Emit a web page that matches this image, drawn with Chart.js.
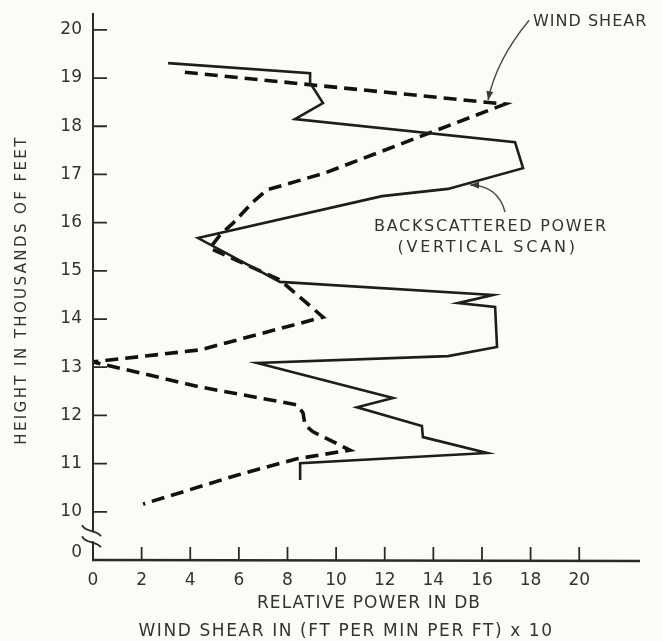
<!DOCTYPE html>
<html><head><meta charset="utf-8">
<script src="https://cdn.jsdelivr.net/npm/chart.js@4.4.1/dist/chart.umd.min.js"></script>
<style>html,body{margin:0;padding:0;background:#fbfcf7;}canvas{display:block;}</style>
</head><body>
<canvas id="c" width="662" height="641"></canvas>
<script>
// Backscattered power (vertical scan): relative power in dB vs height (thousands of feet)
const powerDb = [3.09, 8.93, 8.93, 9.46, 8.31, 17.36, 17.69, 14.60, 11.89, 4.32, 7.69, 16.45, 15.01, 16.54, 16.62, 14.60, 6.75, 12.34, 10.86, 13.53, 13.57, 16.21, 8.52, 8.52];
const powerHeight = [19.31, 19.10, 18.90, 18.48, 18.15, 17.67, 17.13, 16.70, 16.55, 15.68, 14.77, 14.50, 14.33, 14.25, 13.42, 13.23, 13.09, 12.36, 12.17, 11.78, 11.55, 11.22, 11.01, 10.66];
// Wind shear (ft per min per ft) x 10 vs height
const shearValue = [3.78, 16.95, 9.54, 7.16, 6.54, 5.76, 5.22, 4.81, 7.69, 9.46, 4.40, 0.00, 4.40, 8.39, 8.64, 8.72, 9.05, 10.57, 8.39, 5.92, 2.06];
const shearHeight = [19.12, 18.46, 17.03, 16.68, 16.41, 15.99, 15.74, 15.47, 14.81, 14.04, 13.36, 13.11, 12.59, 12.22, 12.05, 11.80, 11.66, 11.28, 11.10, 10.76, 10.16];
const xTickValues = [0, 2, 4, 6, 8, 10, 12, 14, 16, 18, 20];
const yTickValues = [10, 11, 12, 13, 14, 15, 16, 17, 18, 19, 20];
const yZeroLabel = '0';
const yTitle = 'HEIGHT IN THOUSANDS OF FEET';
const xTitle1 = 'RELATIVE POWER IN DB';
const xTitle2 = 'WIND SHEAR IN (FT PER MIN PER FT) x 10';

// broken axis: the "0" is drawn just above the bottom of the axis
const Y_MIN = 9, Y_MAX = 20.35, Y_ZERO_POS = 9.15;
const X_MIN = 0, X_MAX = 22.5;

const INK = '#1d1d1d';
const TXT = '#333333';
const FONT = 'DejaVu Sans';

const toPts = (xs, ys) => xs.map((x, i) => ({x, y: ys[i]}));

const decor = {
  id: 'decor',
  beforeDraw(chart) {
    const c = chart.ctx;
    c.save();
    c.fillStyle = '#fbfcf7';
    c.fillRect(0, 0, chart.width, chart.height);
    c.restore();
  },
  afterDraw(chart) {
    const c = chart.ctx;
    const xs = chart.scales.x, ys = chart.scales.y;
    const X = v => xs.getPixelForValue(v), Y = v => ys.getPixelForValue(v);
    const x0 = X(0), yb = Y(Y_MIN), yt = Y(Y_MAX);
    c.save();
    c.strokeStyle = '#2a2a2a';
    c.lineCap = 'butt';
    // y axis with break
    const brkTop = Y(9.66), brkBot = Y(9.45);
    c.lineWidth = 2;
    c.beginPath();
    c.moveTo(x0, yt); c.lineTo(x0, brkTop + 3);
    c.moveTo(x0, brkBot + 3); c.lineTo(x0, yb);
    c.stroke();
    // break marks
    c.lineWidth = 1.8;
    [brkTop - 3, brkBot - 2].forEach(y0 => {
      c.beginPath();
      c.moveTo(x0 - 11, y0);
      c.bezierCurveTo(x0 - 7, y0 + 8, x0 + 3, y0 + 4, x0 + 8, y0 + 11);
      c.stroke();
    });
    // x axis
    c.lineWidth = 2.4;
    c.beginPath();
    c.moveTo(x0 - 1, yb); c.lineTo(X(X_MAX), yb + 1);
    c.stroke();
    // tick marks (inward)
    c.lineWidth = 1.8;
    c.beginPath();
    yTickValues.forEach(v => { c.moveTo(x0, Y(v)); c.lineTo(x0 + 14, Y(v)); });
    xTickValues.forEach(v => { if (v > 0) { c.moveTo(X(v), yb); c.lineTo(X(v), yb - 13); } });
    c.stroke();

    // axis titles
    c.fillStyle = TXT;
    c.textBaseline = 'middle';
    c.textAlign = 'center';
    c.font = `17px "${FONT}"`;
    c.letterSpacing = '1.1px';
    c.fillText(xTitle1, 369, 604);
    c.letterSpacing = '1.6px';
    c.fillText(xTitle2, 346, 632);
    c.save();
    c.translate(22, 290);
    c.rotate(-Math.PI / 2);
    c.font = `15px "${FONT}"`;
    c.letterSpacing = '2.4px';
    c.fillText(yTitle, 0, 0);
    c.restore();

    // annotations
    c.font = `16px "${FONT}"`;
    c.letterSpacing = '1px';
    c.textAlign = 'left';
    c.fillText('WIND SHEAR', X(18.1), Y(20.17));
    c.textAlign = 'center';
    c.letterSpacing = '1.7px';
    c.fillText('BACKSCATTERED POWER', X(16.37), Y(15.91));
    c.letterSpacing = '2.8px';
    c.fillText('(VERTICAL SCAN)', X(16.23), Y(15.47));
    c.letterSpacing = '0px';

    const arrow = (p0, cp, p2) => {
      const [ax, ay] = [X(p0[0]), Y(p0[1])];
      const [cx, cy] = [X(cp[0]), Y(cp[1])];
      const [bx, by] = [X(p2[0]), Y(p2[1])];
      c.strokeStyle = '#4a4a4a';
      c.lineWidth = 1.4;
      c.beginPath(); c.moveTo(ax, ay); c.quadraticCurveTo(cx, cy, bx, by); c.stroke();
      const ang = Math.atan2(by - cy, bx - cx);
      const L = 9, W = 3.5;
      c.fillStyle = '#3a3a3a';
      c.beginPath();
      c.moveTo(bx, by);
      c.lineTo(bx - L * Math.cos(ang) + W * Math.sin(ang), by - L * Math.sin(ang) - W * Math.cos(ang));
      c.lineTo(bx - L * Math.cos(ang) - W * Math.sin(ang), by - L * Math.sin(ang) + W * Math.cos(ang));
      c.closePath(); c.fill();
    };
    arrow([17.94, 20.2], [16.58, 19.37], [16.25, 18.54]);
    arrow([16.95, 16.22], [16.66, 16.77], [15.51, 16.78]);
    c.restore();
  }
};

new Chart(document.getElementById('c'), {
  type: 'scatter',
  data: {
    datasets: [
      {
        label: 'BACKSCATTERED POWER (VERTICAL SCAN)',
        data: toPts(powerDb, powerHeight),
        showLine: true, tension: 0, pointRadius: 0,
        borderColor: INK, borderWidth: 2.6, borderJoinStyle: 'miter', fill: false
      },
      {
        label: 'WIND SHEAR',
        data: toPts(shearValue, shearHeight),
        showLine: true, tension: 0, pointRadius: 0,
        borderColor: '#111', borderWidth: 3.6, borderDash: [13, 7], borderCapStyle: 'butt', fill: false
      }
    ]
  },
  options: {
    responsive: false,
    animation: false,
    devicePixelRatio: 1,
    layout: { padding: { top: 13, right: 22, left: 0, bottom: 0 } },
    plugins: { legend: { display: false }, tooltip: { enabled: false } },
    scales: {
      x: {
        type: 'linear', min: X_MIN, max: X_MAX,
        grid: { display: false, drawTicks: false },
        border: { display: false },
        afterBuildTicks: s => { s.ticks = xTickValues.map(v => ({ value: v })); },
        afterFit: s => { s.height = 81; s.paddingLeft = 0; s.paddingRight = 0; },
        ticks: { color: TXT, padding: 10, font: { family: FONT, size: 17 }, maxRotation: 0, autoSkip: false,
                 callback: v => String(v) },
        title: { display: false }
      },
      y: {
        type: 'linear', min: Y_MIN, max: Y_MAX,
        grid: { display: false, drawTicks: false },
        border: { display: false },
        afterBuildTicks: s => { s.ticks = [Y_ZERO_POS].concat(yTickValues).map(v => ({ value: v })); },
        afterFit: s => { s.width = 93; s.paddingTop = 0; s.paddingBottom = 0; },
        ticks: { color: TXT, padding: 11, font: { family: FONT, size: 17 }, autoSkip: false,
                 callback: v => (v < 10 ? yZeroLabel : String(v)) },
        title: { display: false }
      }
    }
  },
  plugins: [decor]
});
</script>
</body></html>
